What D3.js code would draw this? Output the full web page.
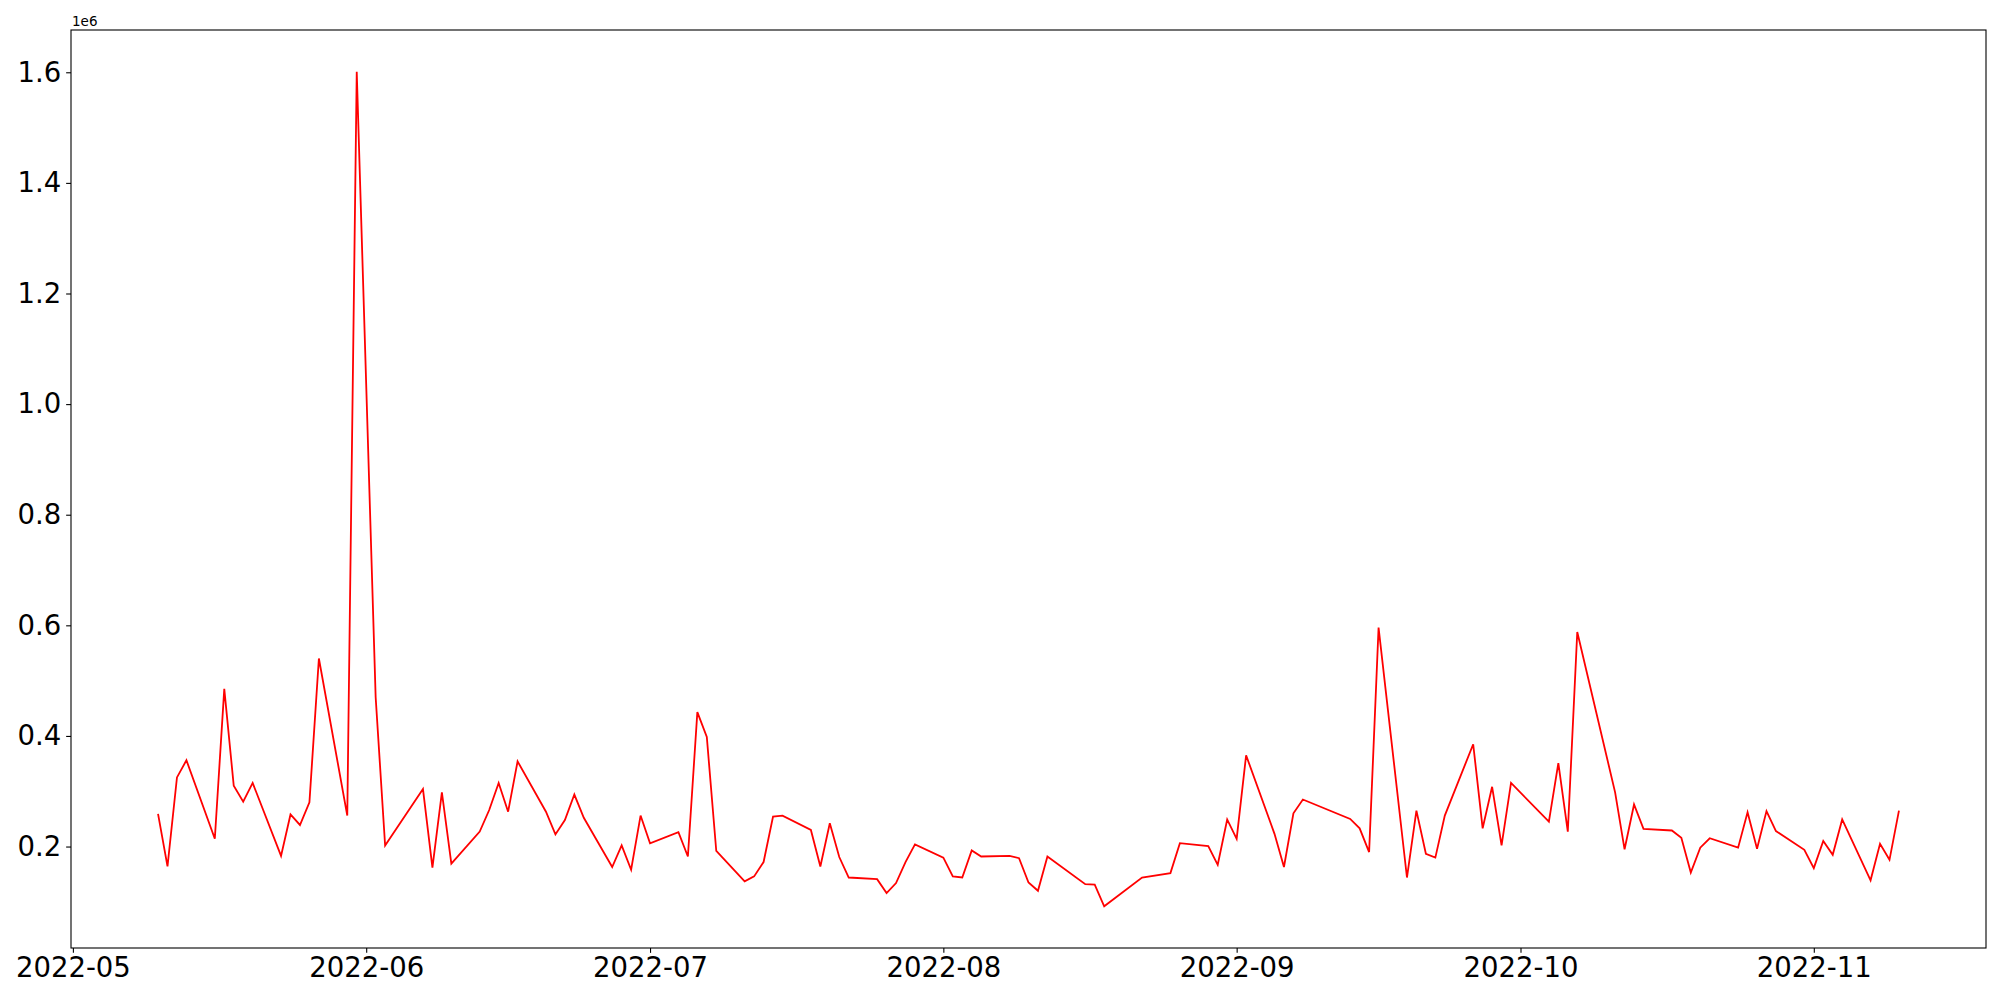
<!DOCTYPE html>
<html>
<head>
<meta charset="utf-8">
<script src="https://cdn.jsdelivr.net/npm/d3@7"></script>
<style>
  body { margin: 0; background: #fff; }
  svg { display: block; font-family: "DejaVu Sans", sans-serif; }
</style>
</head>
<body>
<div class="chart"></div>
<script>
// daily values (trading days only, gaps kept as they are)
const dates = [
  "2022-05-10","2022-05-11","2022-05-12","2022-05-13","2022-05-16","2022-05-17","2022-05-18","2022-05-19","2022-05-20",
  "2022-05-23","2022-05-24","2022-05-25","2022-05-26","2022-05-27","2022-05-30","2022-05-31",
  "2022-06-02","2022-06-03","2022-06-07","2022-06-08","2022-06-09","2022-06-10","2022-06-13","2022-06-14","2022-06-15",
  "2022-06-16","2022-06-17","2022-06-20","2022-06-21","2022-06-22","2022-06-23","2022-06-24","2022-06-27","2022-06-28",
  "2022-06-29","2022-06-30",
  "2022-07-01","2022-07-04","2022-07-05","2022-07-06","2022-07-07","2022-07-08","2022-07-11","2022-07-12","2022-07-13",
  "2022-07-14","2022-07-15","2022-07-18","2022-07-19","2022-07-20","2022-07-21","2022-07-22","2022-07-25","2022-07-26",
  "2022-07-27","2022-07-28","2022-07-29",
  "2022-08-01","2022-08-02","2022-08-03","2022-08-04","2022-08-05","2022-08-08","2022-08-09","2022-08-10","2022-08-11",
  "2022-08-12","2022-08-16","2022-08-17","2022-08-18","2022-08-22","2022-08-25","2022-08-26","2022-08-29","2022-08-30",
  "2022-08-31",
  "2022-09-01","2022-09-02","2022-09-05","2022-09-06","2022-09-07","2022-09-08","2022-09-13","2022-09-14","2022-09-15",
  "2022-09-16","2022-09-19","2022-09-20","2022-09-21","2022-09-22","2022-09-23","2022-09-26","2022-09-27","2022-09-28",
  "2022-09-29","2022-09-30",
  "2022-10-04","2022-10-05","2022-10-06","2022-10-07","2022-10-11","2022-10-12","2022-10-13","2022-10-14","2022-10-17",
  "2022-10-18","2022-10-19","2022-10-20","2022-10-21","2022-10-24","2022-10-25","2022-10-26","2022-10-27","2022-10-28",
  "2022-10-31",
  "2022-11-01","2022-11-02","2022-11-03","2022-11-04","2022-11-07","2022-11-08","2022-11-09","2022-11-10"
];
const values = [
  259000,164000,325000,356000,214000,485000,310000,281000,315000,
  183000,258000,239000,280000,540000,256000,1601000,
  470000,202000,304000,162000,298000,169000,227000,266000,315000,
  263000,354000,263000,222000,248000,294000,252000,163000,202000,
  158000,256000,
  206000,226000,182000,443000,398000,192000,137000,146000,172000,
  254000,256000,230000,164000,242000,181000,144000,141000,116000,
  134000,172000,204000,
  180000,146000,144000,193000,182000,183000,179000,135000,120000,
  182000,132000,131000,92000,144000,152000,206000,201000,167000,
  249000,
  214000,365000,223000,163000,260000,285000,250000,233000,190000,
  596000,144000,265000,187000,180000,256000,385000,233000,308000,
  202000,315000,
  245000,351000,227000,588000,298000,195000,276000,232000,229000,
  216000,153000,198000,215000,198000,262000,196000,264000,228000,
  194000,
  161000,210000,185000,249000,139000,205000,176000,265000
];
const yTicks = [0.2e6, 0.4e6, 0.6e6, 0.8e6, 1.0e6, 1.2e6, 1.4e6, 1.6e6];

const w = 2000;
const h = 1000;
const m = {top: 30, left: 71, right: 14, bottom: 52};
const plot_w = w - m.left - m.right;
const plot_h = h - m.top - m.bottom;

const parse = d3.utcParse("%Y-%m-%d");
const data = dates.map((d, i) => ({date: parse(d), value: values[i]}));

// matplotlib-like 5% margins on both axes
const tExt = d3.extent(data, d => +d.date);
const tPad = (tExt[1] - tExt[0]) * 0.05;
const vExt = d3.extent(data, d => d.value);
const vPad = (vExt[1] - vExt[0]) * 0.05;

const x = d3.scaleUtc()
            .domain([new Date(tExt[0] - tPad), new Date(tExt[1] + tPad)])
            .range([0, plot_w]);
const y = d3.scaleLinear()
            .domain([vExt[0] - vPad, vExt[1] + vPad])
            .range([plot_h, 0]);

const svg = d3.select('.chart')
              .append('svg')
              .attr('width', w)
              .attr('height', h);

const g = svg.append('g')
             .attr('transform', `translate(${m.left},${m.top})`);

const tick = 4.86;
const xAxis = d3.axisBottom(x)
                .tickValues(d3.utcMonth.range(x.domain()[0], x.domain()[1]))
                .tickFormat(d3.utcFormat("%Y-%m"))
                .tickSize(tick)
                .tickPadding(tick);
const yAxis = d3.axisLeft(y)
                .tickValues(yTicks)
                .tickFormat(d => d3.format(".1f")(d / 1e6))
                .tickSize(tick)
                .tickPadding(tick);

const gx = g.append('g')
            .attr('transform', `translate(0,${plot_h})`)
            .call(xAxis);
const gy = g.append('g').call(yAxis);

[gx, gy].forEach(a => {
    a.select('.domain').remove();
    a.selectAll('line').attr('stroke', '#000').attr('stroke-width', 1.1);
    a.selectAll('text')
     .attr('font-family', '"DejaVu Sans", sans-serif')
     .attr('font-size', 27.5)
     .attr('fill', '#000');
});

const line = d3.line()
               .x(d => x(d.date))
               .y(d => y(d.value));

g.append('path')
 .datum(data)
 .attr('fill', 'none')
 .attr('stroke', '#ff0000')
 .attr('stroke-width', 1.8)
 .attr('stroke-linejoin', 'miter')
 .attr('d', line);

// frame
g.append('rect')
 .attr('width', plot_w)
 .attr('height', plot_h)
 .attr('fill', 'none')
 .attr('stroke', '#000')
 .attr('stroke-width', 1.1);

// offset text
svg.append('text')
   .attr('x', m.left + 1)
   .attr('y', m.top - 4)
   .attr('font-size', 13.5)
   .attr('fill', '#000')
   .text('1e6');
</script>
</body>
</html>
